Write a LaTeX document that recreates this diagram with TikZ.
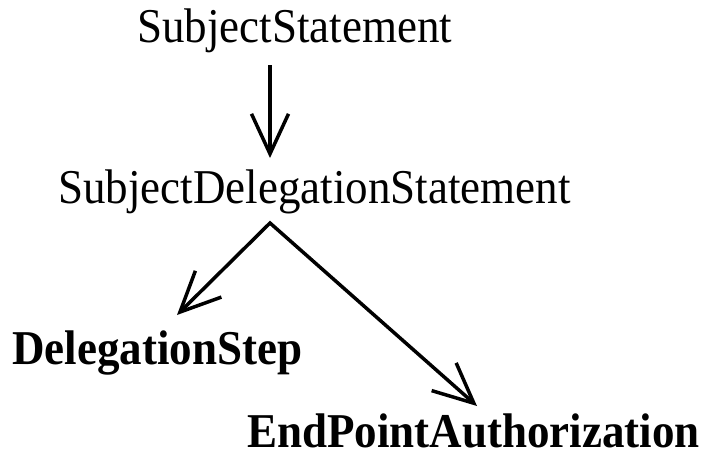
\documentclass[tikz,border=0pt]{standalone}
\usepackage{fontspec}
\setmainfont{Liberation Serif}
\usetikzlibrary{arrows.meta}
\newcommand{\tallText}[1]{\scalebox{1}[1.08]{#1}}
\begin{document}
\begin{tikzpicture}[x=1pt,y=-1pt,
  lbl/.style={inner sep=0pt,anchor=base west,font=\fontsize{45}{54}\selectfont},
  blbl/.style={lbl,font=\fontsize{45}{54}\selectfont\bfseries},
  barb/.tip={Straight Barb[length=40pt,width=37pt]},
  conn/.style={line width=3.5pt,line join=miter,-barb}]
\useasboundingbox (0,0) rectangle (705,455);
\fill[white] (0,0) rectangle (705,455);
\node[lbl] (ss) at (137,42) {\tallText{SubjectStatement}};
\node[lbl] (sds) at (58,203) {\tallText{SubjectDelegationStatement}};
\node[blbl] (ds) at (12,364) {\tallText{DelegationStep}};
\node[blbl] (epa) at (247,447) {\tallText{EndPointAuthorization}};
\coordinate (a1s) at (270,65);
\coordinate (a1e) at (270,158);
\coordinate (apex) at (270,223);
\coordinate (ltip) at (177,315);
\coordinate (rtip) at (477,406);
\draw[conn] (a1s) -- (a1e);
\draw[conn,barb-barb] (ltip) -- (apex) -- (rtip);
\end{tikzpicture}
\end{document}
